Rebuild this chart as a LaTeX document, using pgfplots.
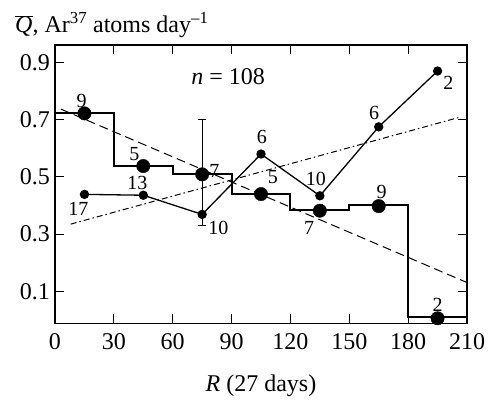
\documentclass[border=0pt]{standalone}
\usepackage{pgfplots}
\pgfplotsset{compat=1.18}
\usepackage{fontspec}
\setmainfont{Liberation Serif}
\newcommand\bigf{\fontsize{24}{28}\selectfont}
\newcommand\labf{\fontsize{20}{24}\selectfont}
\begin{document}
\begin{tikzpicture}
\begin{axis}[
  scale only axis, width=412pt, height=278.3pt,
  xmin=0, xmax=210, ymin=-0.0115, ymax=0.961,
  xtick={0,30,...,210}, ytick={0.1,0.3,0.5,0.7,0.9},
  yticklabels={0.1,0.3,0.5,0.7,0.9},
  tick align=inside, major tick length=9pt,
  tick style={line width=1pt, black},
  axis line style={line width=1.1pt},
  /pgf/number format/assume math mode=true,
  ticklabel style={font=\bigf, inner sep=0pt},
  xticklabel style={yshift=-10pt},
  yticklabel style={xshift=-5pt},
  clip=false,
]
\addplot[const plot, line width=2pt, line join=miter] coordinates {(0,0.722)(30,0.539)(60,0.509)(90,0.439)(120,0.384)(150,0.401)(180,0.01)(210,0.01)};
\addplot[line width=1pt, dash pattern=on 9pt off 5pt] coordinates {(3,0.737)(210,0.131)};
\addplot[line width=1pt, dash pattern=on 6pt off 3pt on 1.5pt off 3pt] coordinates {(8,0.335)(206,0.708)};
\addplot[line width=1.3pt, mark=*, mark size=4pt, mark options={solid, fill=black}] coordinates {(15,0.439)(45,0.436)(75,0.369)(105,0.580)(135,0.434)(165,0.675)(195,0.870)};
\addplot[line width=1pt, mark=-, mark size=4pt] coordinates {(75,0.329)(75,0.699)};
\addplot[only marks, mark=*, mark size=6.7pt, mark options={fill=black}] coordinates {(15,0.722)(45,0.538)(75,0.509)(105,0.440)(135,0.382)(165,0.398)(195,0.006)};
% labels for big dots
\node[font=\labf, inner sep=0pt] at (axis cs:13.6,0.766) {9};
\node[font=\labf, inner sep=0pt] at (axis cs:40.4,0.580) {5};
\node[font=\labf, inner sep=0pt] at (axis cs:81.2,0.522) {7};
\node[font=\labf, inner sep=0pt] at (axis cs:111,0.501) {5};
\node[font=\labf, inner sep=0pt] at (axis cs:129.5,0.322) {7};
\node[font=\labf, inner sep=0pt] at (axis cs:166.5,0.448) {9};
\node[font=\labf, inner sep=0pt] at (axis cs:195,0.052) {2};
% labels for small dots
\node[font=\labf, inner sep=0pt] at (axis cs:11.9,0.390) {17};
\node[font=\labf, inner sep=0pt] at (axis cs:42,0.478) {13};
\node[font=\labf, inner sep=0pt] at (axis cs:83.3,0.320) {10};
\node[font=\labf, inner sep=0pt] at (axis cs:105.5,0.640) {6};
\node[font=\labf, inner sep=0pt] at (axis cs:133,0.493) {10};
\node[font=\labf, inner sep=0pt] at (axis cs:162.6,0.722) {6};
\node[font=\labf, inner sep=0pt] at (axis cs:200.5,0.827) {2};
\node[font=\bigf, inner sep=0pt] at (axis cs:88.3,0.852) {\textit{n} = 108};
\end{axis}
\node[anchor=base west, font=\bigf, inner sep=0pt] at (-40pt,290.3pt) {$\overline{\mbox{\textit{Q}}}$, Ar\textsuperscript{37} atoms day\textsuperscript{–1}};
\node[anchor=base, font=\bigf, inner sep=0pt] at (206pt,-67.7pt) {\textit{R} (27 days)};
\path (-55pt,-75.7pt) rectangle (437pt,323.3pt);
\end{tikzpicture}
\end{document}
